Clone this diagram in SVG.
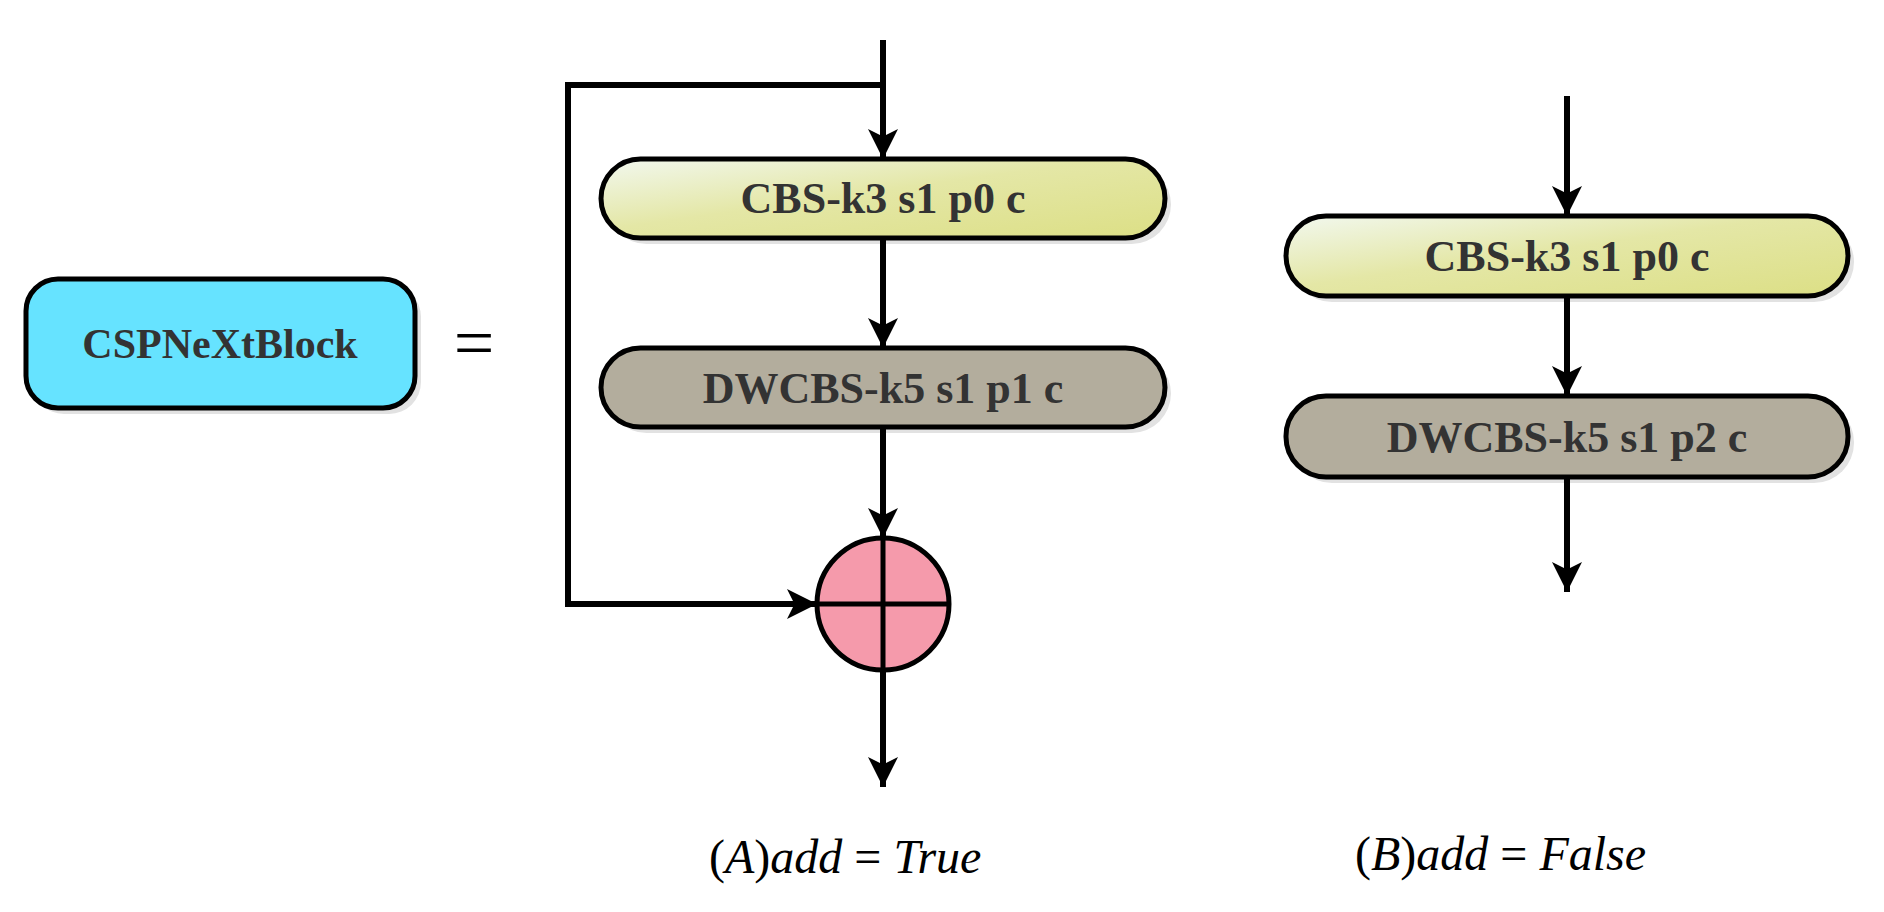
<svg xmlns="http://www.w3.org/2000/svg" width="1884" height="912" viewBox="0 0 1884 912">
<style>
.box{stroke:#000;stroke-width:5}
.sh{fill:#e2e2e2}
.t{font-family:"Liberation Serif",serif;font-weight:bold;fill:#333;text-anchor:middle}
.ln{stroke:#000;stroke-width:6;fill:none}
.cap{font-family:"Liberation Serif",serif;font-style:italic;font-size:48px;fill:#000}
</style>
<defs>
<linearGradient id="g1" x1="0" y1="0" x2="1" y2="1">
<stop offset="0" stop-color="#f2f8ef"/><stop offset="0.45" stop-color="#e4e7a6"/><stop offset="1" stop-color="#dcdf85"/>
</linearGradient>
<marker id="ar" viewBox="0 0 20 20" refX="20" refY="10" markerWidth="5" markerHeight="5" markerUnits="strokeWidth" orient="auto">
<path d="M0,0 L20,10 L0,20 L5,10 Z" fill="#000"/>
</marker>
</defs>
<g id="cspnextblock">
<rect class="sh" x="32" y="285" width="389" height="129" rx="32"/>
<rect class="box" x="26" y="279" width="389" height="129" rx="32" fill="#66e3ff"/>
<text class="t" x="220" y="358" font-size="42">CSPNeXtBlock</text>
</g>
<g id="equals"><text x="474" y="367" font-family="Liberation Serif,serif" font-size="72" text-anchor="middle">=</text></g>
<g id="a-cbs">
<rect class="sh" x="607" y="165" width="564" height="79" rx="39.5"/>
<rect class="box" x="601" y="159" width="564" height="79" rx="39.5" fill="url(#g1)"/>
<text class="t" x="883" y="213" font-size="44">CBS-k3 s1 p0 c</text>
</g>
<g id="a-dwcbs">
<rect class="sh" x="607" y="354" width="564" height="79" rx="39.5"/>
<rect class="box" x="601" y="348" width="564" height="79" rx="39.5" fill="#b3ad9d"/>
<text class="t" x="883" y="403" font-size="44">DWCBS-k5 s1 p1 c</text>
</g>
<g id="a-add">
<circle cx="883" cy="604" r="66" fill="#f59aab" stroke="#000" stroke-width="5"/>
<line x1="817" y1="604" x2="949" y2="604" stroke="#000" stroke-width="5"/>
<line x1="883" y1="538" x2="883" y2="670" stroke="#000" stroke-width="5"/>
</g>
<g id="b-cbs">
<rect class="sh" x="1292" y="222" width="562" height="80" rx="40"/>
<rect class="box" x="1286" y="216" width="562" height="80" rx="40" fill="url(#g1)"/>
<text class="t" x="1567" y="271" font-size="44">CBS-k3 s1 p0 c</text>
</g>
<g id="b-dwcbs">
<rect class="sh" x="1292" y="402" width="562" height="81" rx="40"/>
<rect class="box" x="1286" y="396" width="562" height="81" rx="40" fill="#b3ad9d"/>
<text class="t" x="1567" y="452" font-size="44">DWCBS-k5 s1 p2 c</text>
</g>
<g id="connectors">
<line class="ln" x1="883" y1="40" x2="883" y2="159" marker-end="url(#ar)"/>
<polyline class="ln" points="883,85 568,85 568,604 817,604" marker-end="url(#ar)"/>
<line class="ln" x1="883" y1="238" x2="883" y2="348" marker-end="url(#ar)"/>
<line class="ln" x1="883" y1="427" x2="883" y2="538" marker-end="url(#ar)"/>
<line class="ln" x1="883" y1="670" x2="883" y2="787" marker-end="url(#ar)"/>
<line class="ln" x1="1567" y1="96" x2="1567" y2="216" marker-end="url(#ar)"/>
<line class="ln" x1="1567" y1="296" x2="1567" y2="396" marker-end="url(#ar)"/>
<line class="ln" x1="1567" y1="477" x2="1567" y2="592" marker-end="url(#ar)"/>
</g>
<g id="captions">
<text class="cap" x="709" y="873"><tspan font-style="normal">(</tspan>A<tspan font-style="normal">)</tspan>add <tspan font-style="normal">=</tspan> True</text>
<text class="cap" x="1355" y="870"><tspan font-style="normal">(</tspan>B<tspan font-style="normal">)</tspan>add <tspan font-style="normal">=</tspan> False</text>
</g>
</svg>
